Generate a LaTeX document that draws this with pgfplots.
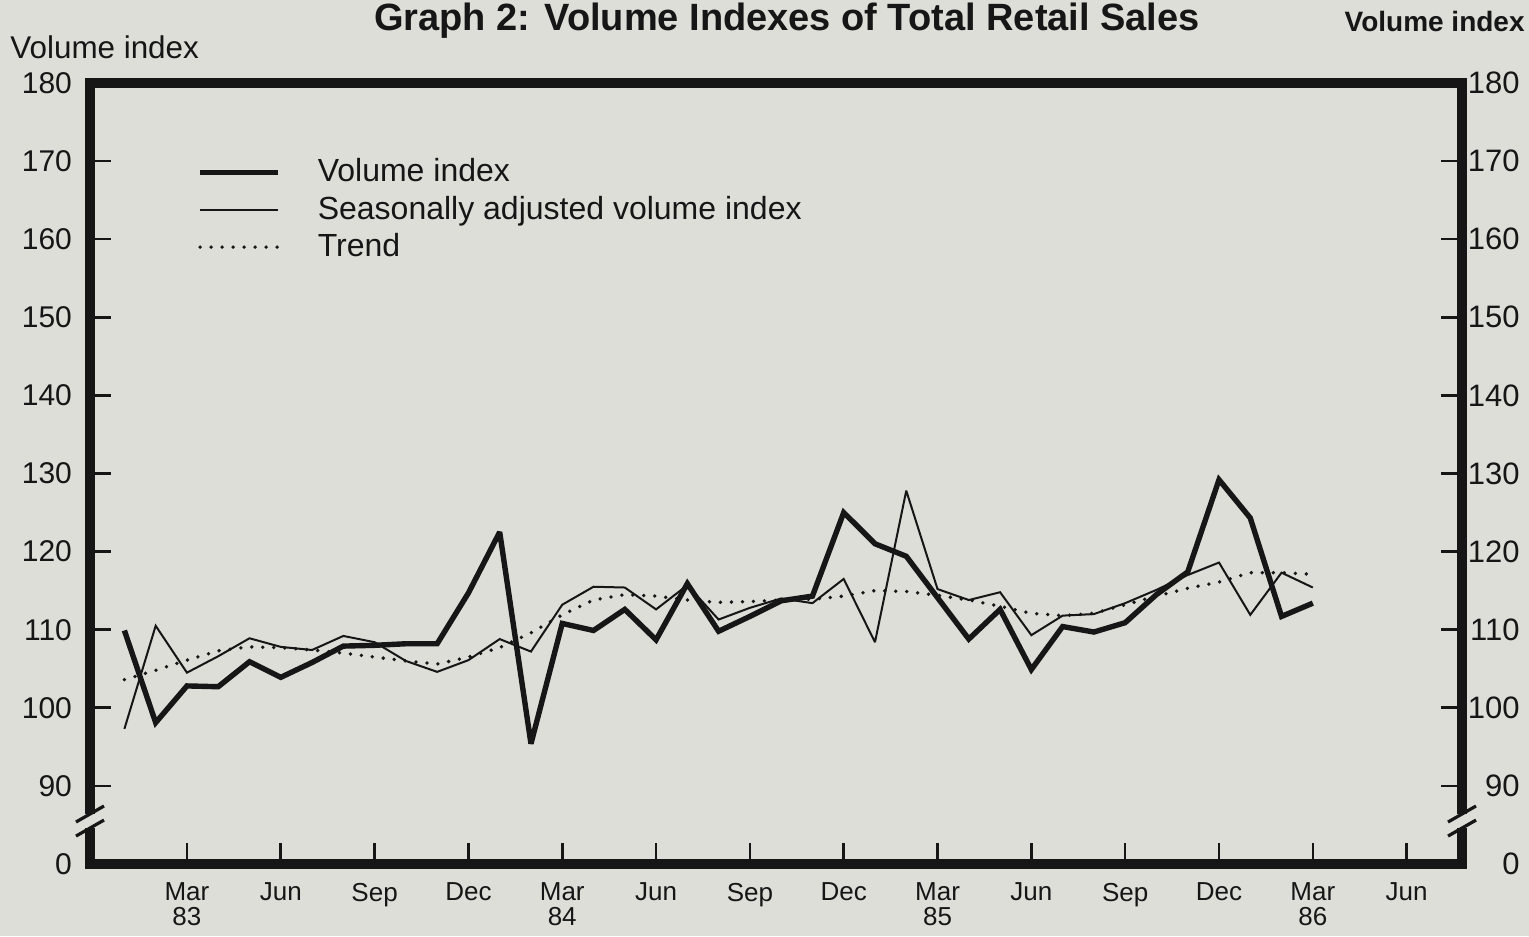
\documentclass[border=0pt]{standalone}
\usepackage{fontspec}
\setmainfont{Liberation Sans}
\usepackage{pgfplots}
\usepackage{pgfplotstable}
\pgfplotsset{compat=1.18}
\definecolor{paper}{RGB}{221,222,216}
\definecolor{ink}{RGB}{22,22,22}

\pgfplotstableread{
m vi sa tr
0 109.9 97.3 103.6
1 98.1 110.5 104.8
2 102.8 104.5 106.1
3 102.7 106.6 107.3
4 105.9 108.9 107.8
5 103.9 107.8 107.7
6 105.8 107.4 107.4
7 107.9 109.2 107.0
8 108.0 108.4 106.5
9 108.2 106.0 106.0
10 108.2 104.6 105.6
11 114.7 106.1 106.5
12 122.5 108.8 107.7
13 95.4 107.2 109.6
14 110.8 113.2 111.9
15 109.9 115.5 113.8
16 112.6 115.4 114.5
17 108.7 112.6 114.3
18 115.9 115.7 113.8
19 109.8 111.3 113.5
20 111.7 112.8 113.6
21 113.7 114.0 113.8
22 114.3 113.4 113.9
23 125.0 116.5 114.3
24 121.0 108.4 115.0
25 119.4 127.8 114.9
26 114.1 115.2 114.4
27 108.8 113.8 113.8
28 112.6 114.8 113.0
29 104.9 109.3 112.1
30 110.4 111.8 111.8
31 109.7 112.0 112.1
32 110.9 113.4 113.2
33 114.5 115.1 114.3
34 117.4 117.0 115.3
35 129.2 118.6 116.1
36 124.3 111.9 117.3
37 111.7 117.3 117.3
38 113.4 115.4 117.1
}\datatable

\begin{document}
\begin{tikzpicture}[x=1pt,y=1pt]
\fill[paper] (-45,-36) rectangle (719.5,432);
\begin{axis}[
  scale only axis, width=686pt, height=390.5pt,
  xmin=-1.1, xmax=42.77, ymin=80, ymax=180,
  axis line style={line width=5pt, ink},
  xtick={2,5,...,41},
  xticklabels={{Mar\\83},Jun,Sep,Dec,{Mar\\84},Jun,Sep,Dec,{Mar\\85},Jun,Sep,Dec,{Mar\\86},Jun},
  xticklabel style={align=center, font=\fontsize{13}{12.5}\selectfont, yshift=-6pt, text=ink},
  ytick={80,90,...,180},
  yticklabels={0,90,100,110,120,130,140,150,160,170,180},
  yticklabel style={font=\fontsize{15}{16}\selectfont, xshift=-5.5pt, text=ink},
  tick align=inside,
  xtick pos=lower, ytick pos=left,
  major tick length=10.5pt,
  tick style={line width=1.3pt, ink},
  clip=false,
  legend cell align=left,
  legend image code/.code={\path (0pt,0pt); \draw[#1] (0pt,2pt) -- (39pt,2pt);},
  legend style={draw=none, fill=none, inner sep=0pt, at={(0.078,0.905)}, anchor=north west,
    font=\fontsize{16}{18}\selectfont, text=ink, row sep=0pt,
    nodes={inner sep=0pt, text height=12.2pt, text depth=6.5pt},
    /tikz/every odd column/.append style={column sep=18.5pt}},
]
\addplot[ink, line width=2.7pt, line join=miter, miter limit=3] table[x=m, y=vi] {\datatable};
\addlegendentry{Volume index}
\addplot[ink, line width=1pt, line join=miter, miter limit=3] table[x=m, y=sa] {\datatable};
\addlegendentry{Seasonally adjusted volume index}
\addplot[ink, line width=1.9pt, line cap=round, dash pattern=on 0pt off 5.5pt] table[x=m, y=tr] {\datatable};
\addlegendentry{Trend}
% axis breaks
\fill[paper] ([xshift=-4pt]axis cs:-1.1,84.6) rectangle ([xshift=4pt]axis cs:-1.1,86.4);
\draw[line width=1.6pt, ink] ([xshift=-7pt,yshift=-4pt]axis cs:-1.1,84.6) -- ([xshift=7pt,yshift=4pt]axis cs:-1.1,84.6);
\draw[line width=1.6pt, ink] ([xshift=-7pt,yshift=-4pt]axis cs:-1.1,86.4) -- ([xshift=7pt,yshift=4pt]axis cs:-1.1,86.4);
\end{axis}
\begin{axis}[
  scale only axis, width=686pt, height=390.5pt,
  xmin=-1.1, xmax=42.77, ymin=80, ymax=180,
  hide x axis, axis y line*=right,
  axis line style={line width=5pt, ink},
  ytick={80,90,...,180},
  yticklabels={0,90,100,110,120,130,140,150,160,170,180},
  yticklabel style={font=\fontsize{15.5}{16}\selectfont, anchor=east, inner sep=0pt, xshift=29pt, text=ink},
  tick align=inside, major tick length=10.5pt,
  tick style={line width=1.3pt, ink},
  clip=false,
]
\addplot[draw=none] coordinates {(0,100)};
\fill[paper] ([xshift=-4pt]axis cs:42.77,84.6) rectangle ([xshift=4pt]axis cs:42.77,86.4);
\draw[line width=1.6pt, ink] ([xshift=-7pt,yshift=-4pt]axis cs:42.77,84.6) -- ([xshift=7pt,yshift=4pt]axis cs:42.77,84.6);
\draw[line width=1.6pt, ink] ([xshift=-7pt,yshift=-4pt]axis cs:42.77,86.4) -- ([xshift=7pt,yshift=4pt]axis cs:42.77,86.4);
\end{axis}
\node[anchor=west, font=\fontsize{15.7}{16}\selectfont, text=ink, inner sep=0pt] at (-40,408.5) {Volume index};
\node[anchor=east, font=\fontsize{14}{16}\selectfont\bfseries, text=ink, inner sep=0pt] at (717.5,421) {Volume index};
\node[anchor=base, font=\fontsize{19}{22}\selectfont\bfseries, text=ink, inner sep=0pt] at (348.5,416.5) {Graph 2: Volume Indexes of Total Retail Sales};
\pgfresetboundingbox
\useasboundingbox (-45,-36) rectangle (719.5,432);
\end{tikzpicture}
\end{document}
